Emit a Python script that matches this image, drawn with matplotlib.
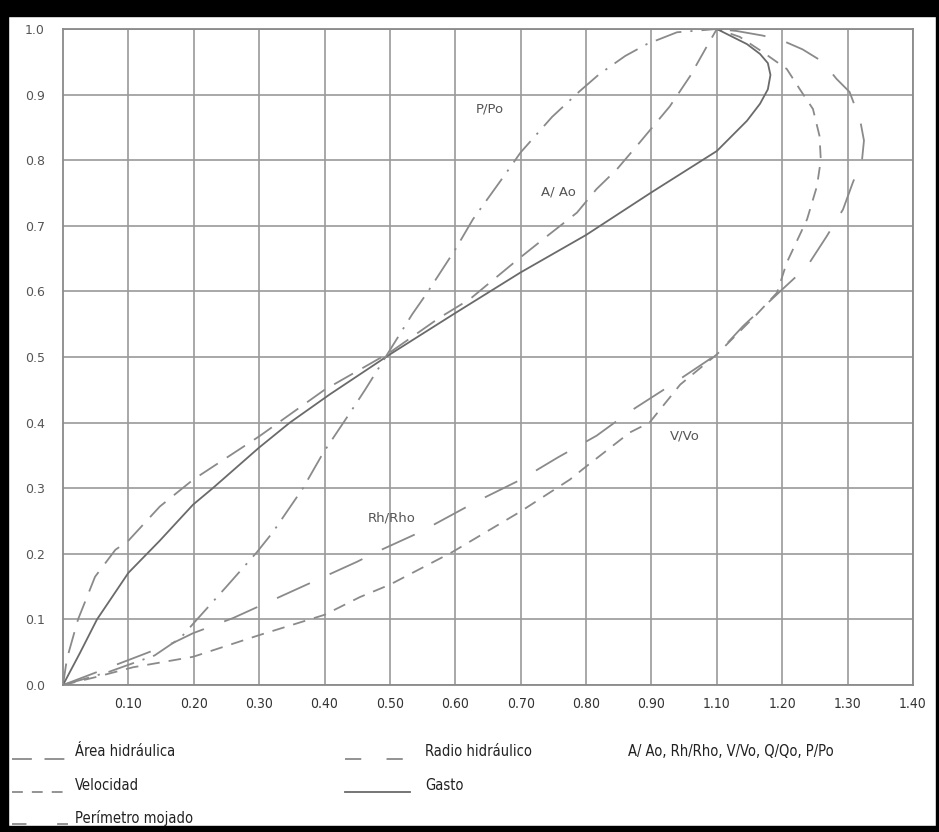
import numpy as np
import matplotlib.pyplot as plt
from matplotlib.lines import Line2D
from matplotlib.patches import Rectangle

# d/D on y, ratio on x
area_x = [0, 0.006, 0.023, 0.049, 0.08, 0.10, 0.148, 0.199, 0.30, 0.40, 0.50, 0.576, 0.622, 0.696, 0.74, 0.786, 0.816, 0.847, 0.882, 0.928, 0.959, 0.985, 1.0]
area_y = [0, 0.04, 0.10, 0.165, 0.206, 0.22, 0.272, 0.313, 0.379, 0.45, 0.507, 0.56, 0.588, 0.649, 0.684, 0.72, 0.756, 0.786, 0.827, 0.882, 0.928, 0.974, 1.0]

radio_x = [0, 0.10, 0.168, 0.199, 0.26, 0.355, 0.45, 0.48, 0.546, 0.633, 0.70, 0.757, 0.816, 0.867, 0.931, 1.0, 1.04, 1.10, 1.138, 1.168, 1.193, 1.208, 1.222, 1.225, 1.219, 1.203, 1.183, 1.162, 1.131, 1.101, 1.07, 1.03, 1.0]
radio_y = [0, 0.038, 0.064, 0.079, 0.102, 0.145, 0.188, 0.203, 0.233, 0.28, 0.313, 0.347, 0.38, 0.417, 0.458, 0.504, 0.547, 0.603, 0.638, 0.684, 0.725, 0.766, 0.80, 0.83, 0.862, 0.904, 0.924, 0.95, 0.969, 0.982, 0.99, 0.997, 1.0]

vel_x = [0, 0.05, 0.107, 0.199, 0.30, 0.40, 0.454, 0.50, 0.596, 0.699, 0.775, 0.80, 0.867, 0.897, 0.944, 1.0, 1.061, 1.092, 1.107, 1.138, 1.153, 1.159, 1.157, 1.147, 1.127, 1.107, 1.07, 1.035, 1.0]
vel_y = [0, 0.012, 0.027, 0.043, 0.076, 0.107, 0.134, 0.153, 0.203, 0.264, 0.313, 0.333, 0.385, 0.40, 0.458, 0.504, 0.565, 0.598, 0.644, 0.71, 0.76, 0.80, 0.837, 0.878, 0.908, 0.939, 0.965, 0.988, 1.0]

gasto_x = [0, 0.026, 0.052, 0.10, 0.148, 0.199, 0.229, 0.30, 0.347, 0.408, 0.50, 0.60, 0.70, 0.80, 0.90, 1.0, 1.046, 1.066, 1.078, 1.082, 1.078, 1.066, 1.046, 1.0]
gasto_y = [0, 0.049, 0.10, 0.171, 0.22, 0.275, 0.30, 0.362, 0.40, 0.443, 0.504, 0.567, 0.629, 0.686, 0.751, 0.814, 0.86, 0.886, 0.908, 0.93, 0.948, 0.962, 0.977, 1.0]

per_x = [0, 0.07, 0.14, 0.18, 0.205, 0.25, 0.297, 0.321, 0.367, 0.398, 0.439, 0.462, 0.489, 0.534, 0.557, 0.60, 0.627, 0.676, 0.70, 0.748, 0.79, 0.82, 0.86, 0.893, 0.939, 1.0]
per_y = [0, 0.02, 0.045, 0.072, 0.10, 0.15, 0.203, 0.233, 0.30, 0.354, 0.415, 0.45, 0.493, 0.565, 0.598, 0.664, 0.71, 0.778, 0.812, 0.866, 0.905, 0.931, 0.959, 0.977, 0.995, 1.0]

xtick_labels = ["0.10", "0.20", "0.30", "0.40", "0.50", "0.60", "0.70", "0.80", "0.90", "1.10", "1.20", "1.30", "1.40"]
ytick_labels = ["0.0", "0.1", "0.2", "0.3", "0.4", "0.5", "0.6", "0.7", "0.8", "0.9", "1.0"]

dash_c = "#8a8a8a"
solid_c = "#6a6a6a"
ls_area = (0, (12, 6))
ls_radio = (0, (20, 12))
ls_vel = (0, (7, 5))
ls_per = (0, (15, 5, 1.2, 5))

narrow = dict(family="DejaVu Sans", stretch="condensed")

fig = plt.figure(figsize=(9.39, 8.32), dpi=100)
ax = fig.add_axes([63/939, 1-685/832, 850/939, 656/832])

ax.plot(area_x, area_y, color=dash_c, lw=1.3, ls=ls_area)
ax.plot(radio_x, radio_y, color=dash_c, lw=1.3, ls=ls_radio)
ax.plot(vel_x, vel_y, color=dash_c, lw=1.3, ls=ls_vel)
ax.plot(gasto_x, gasto_y, color=solid_c, lw=1.3)
ax.plot(per_x, per_y, color=dash_c, lw=1.3, ls=ls_per)

ax.set_xlim(0, 1.3)
ax.set_ylim(0, 1.0)
ax.set_xticks(np.arange(1, 14) * 0.1)
ax.set_xticklabels(xtick_labels, fontsize=10, color="#333333", **narrow)
ax.set_yticks(np.arange(0, 11) * 0.1)
ax.set_yticklabels(ytick_labels, fontsize=9, color="#555555")
ax.tick_params(length=0, pad=13)
ax.tick_params(axis="x", pad=9)
ax.grid(True, color="#9a9a9a", lw=1.2)
for s in ax.spines.values():
    s.set_color("#8a8a8a")
    s.set_linewidth(1.3)

lab = dict(fontsize=9.5, color="#555555", ha="center", va="center")
ax.text(0.653, 0.878, "P/Po", **lab)
ax.text(0.757, 0.751, "A/ Ao", **lab)
ax.text(0.503, 0.255, "Rh/Rho", **lab)
ax.text(0.951, 0.379, "V/Vo", **lab)

# legend at the bottom
leg_font = dict(fontsize=10.5, color="#222222", va="center", **narrow)
def sample(x0, x1, py, ls, c=dash_c):
    fig.add_artist(Line2D([x0/939, x1/939], [1-py/832, 1-py/832], color=c, lw=1.3, ls=ls))

sample(12, 66, 759, (0, (11, 7)))
fig.text(75/939, 1-752/832, "Área hidráulica", **leg_font)
sample(345, 403, 759, (0, (9, 14)))
fig.text(425/939, 1-752/832, "Radio hidráulico", **leg_font)
fig.text(628/939, 1-752/832, "A/ Ao, Rh/Rho, V/Vo, Q/Qo, P/Po", **leg_font)
sample(12, 70, 792, (0, (6, 5)))
fig.text(75/939, 1-786/832, "Velocidad", **leg_font)
sample(345, 410, 792, "-", solid_c)
fig.text(425/939, 1-786/832, "Gasto", **leg_font)
sample(12, 68, 824, (0, (8, 17)))
fig.text(75/939, 1-818/832, "Perímetro mojado", **leg_font)

# black frame of the scan
for r in [(0, 0, 8, 832), (0, 0, 939, 16), (0, 826, 939, 6), (936, 0, 3, 832)]:
    x, y, w, h = r
    fig.add_artist(Rectangle((x/939, 1-(y+h)/832), w/939, h/832, transform=fig.transFigure, color="black", zorder=10))

fig.savefig("out.png", dpi=100)
